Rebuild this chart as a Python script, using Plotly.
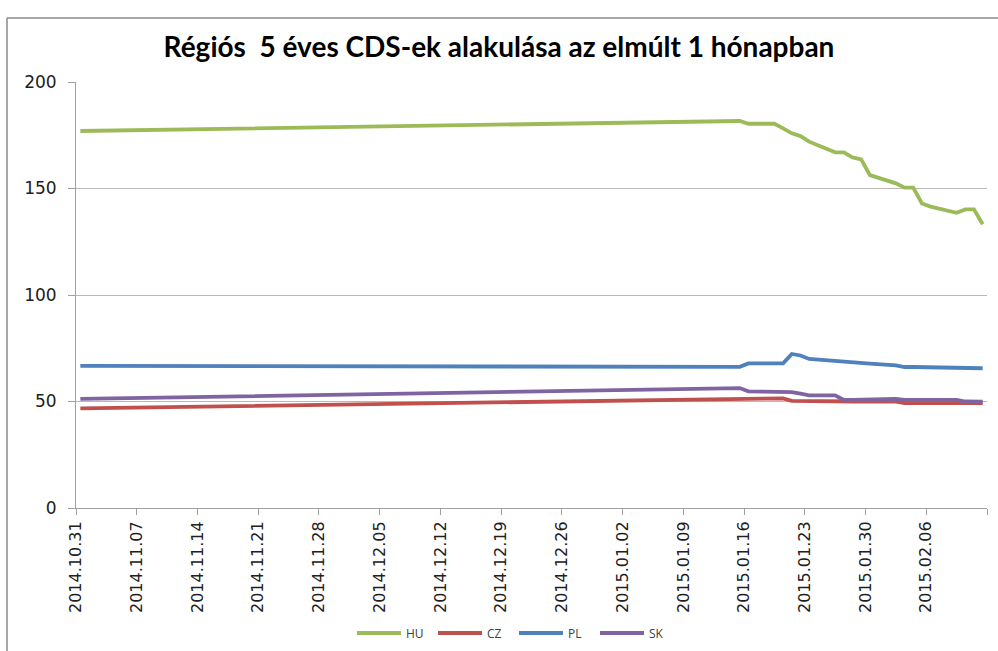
import plotly.graph_objects as go

dates = ["2014-10-31", "2015-01-15", "2015-01-16", "2015-01-19", "2015-01-20", "2015-01-21",
         "2015-01-22", "2015-01-23", "2015-01-26", "2015-01-27", "2015-01-28", "2015-01-29",
         "2015-01-30", "2015-02-02", "2015-02-03", "2015-02-04", "2015-02-05", "2015-02-06",
         "2015-02-09", "2015-02-10", "2015-02-11", "2015-02-12"]

hu = [177.0, 181.7, 180.4, 180.4, 178.2, 175.9, 174.6, 172.0, 167.0, 167.0, 164.6, 163.7,
      156.3, 152.4, 150.4, 150.4, 143.0, 141.5, 138.6, 140.2, 140.2, 133.2]
cz = [46.8, 51.3, 51.5, 51.5, 51.5, 50.3, 50.2, 50.2, 50.1, 50.0, 50.0, 50.0,
      50.0, 49.9, 49.3, 49.3, 49.3, 49.3, 49.2, 49.2, 49.2, 49.2]
pl = [66.7, 66.3, 67.9, 67.9, 67.9, 72.3, 71.6, 70.0, 68.9, 68.7, 68.3, 68.2,
      67.8, 67.0, 66.2, 66.2, 66.1, 66.0, 65.7, 65.6, 65.6, 65.6]
sk = [51.2, 56.3, 54.8, 54.8, 54.8, 54.4, 53.7, 52.9, 52.9, 50.7, 50.7, 50.8,
      51.2, 51.2, 50.8, 50.8, 50.8, 50.8, 50.8, 50.0, 49.9, 49.9]

series_names = ["HU", "CZ", "PL", "SK"]
series_vals = [hu, cz, pl, sk]
colors = ["#9BBB59", "#C0504D", "#4F81BD", "#8064A2"]

tick_dates = ["2014-10-31", "2014-11-07", "2014-11-14", "2014-11-21", "2014-11-28",
              "2014-12-05", "2014-12-12", "2014-12-19", "2014-12-26", "2015-01-02",
              "2015-01-09", "2015-01-16", "2015-01-23", "2015-01-30", "2015-02-06", "2015-02-13"]
tick_text = [d.replace("-", ".") for d in tick_dates[:-1]] + [""]

title_text = "Régiós  5 éves CDS-ek alakulása az elmúlt 1 hónapban"

fig = go.Figure()
for name, vals, col in zip(series_names, series_vals, colors):
    fig.add_trace(go.Scatter(
        x=dates, y=vals, name=name, mode="lines",
        line=dict(color=col, width=3.8),
        xperiod=86400000, xperiodalignment="middle",
    ))

W, H = 998, 651
ml, mr, mt, mb = 76, 11, 82, 143
pw, ph = W - ml - mr, H - mt - mb

def px_x(p):
    return (p - ml) / pw

def px_y(p):
    return (H - mb - p) / ph

tick_font = "DejaVu Sans, sans-serif"

fig.update_layout(
    width=W, height=H,
    margin=dict(l=ml, r=mr, t=mt, b=mb, autoexpand=False),
    paper_bgcolor="white", plot_bgcolor="white",
    font=dict(family=tick_font, color="#404040"),
    title=dict(text="<b>" + title_text + "</b>", x=0.5, xref="container", xanchor="center",
               y=1 - 47 / H, yanchor="middle",
               font=dict(size=28, color="#000000", family="Lato, Open Sans, sans-serif")),
    showlegend=True,
    legend=dict(orientation="h", x=px_x(352), xanchor="left", y=px_y(633), yanchor="middle",
                font=dict(size=12, color="#404040", family="Open Sans, sans-serif"),
                itemwidth=44, entrywidth=22, entrywidthmode="pixels",
                bgcolor="rgba(0,0,0,0)"),
    xaxis=dict(
        type="date", range=["2014-10-31", "2015-02-13"], automargin=False,
        tickvals=tick_dates, ticktext=tick_text, tickangle=-90,
        ticks="outside", ticklen=6, tickcolor="#a0a0a0",
        showline=True, linecolor="#a0a0a0", linewidth=1,
        showgrid=False, zeroline=False,
        tickfont=dict(size=16, color="#202020"),
    ),
    yaxis=dict(
        range=[0, 200], tickvals=[0, 50, 100, 150, 200], automargin=False,
        ticks="outside", ticklen=7, tickcolor="#a0a0a0",
        showline=True, linecolor="#a0a0a0", linewidth=1,
        showgrid=True, gridcolor="#b8b8b8", gridwidth=1, zeroline=False,
        tickfont=dict(size=17, color="#202020"), ticklabelstandoff=8,
    ),
)

# chart frame (outer border, partly outside the image)
frame_col = "#8a8a8a"
fig.add_shape(type="line", xref="paper", yref="paper",
              x0=px_x(7), x1=px_x(7), y0=px_y(18), y1=px_y(700),
              line=dict(color=frame_col, width=1.5))
fig.add_shape(type="line", xref="paper", yref="paper",
              x0=px_x(7), x1=px_x(1100), y0=px_y(18), y1=px_y(18),
              line=dict(color=frame_col, width=1.5))

fig.write_html("out.html", config={"displayModeBar": False},
               post_script="document.body.style.margin='0';document.body.style.overflow='hidden';")
